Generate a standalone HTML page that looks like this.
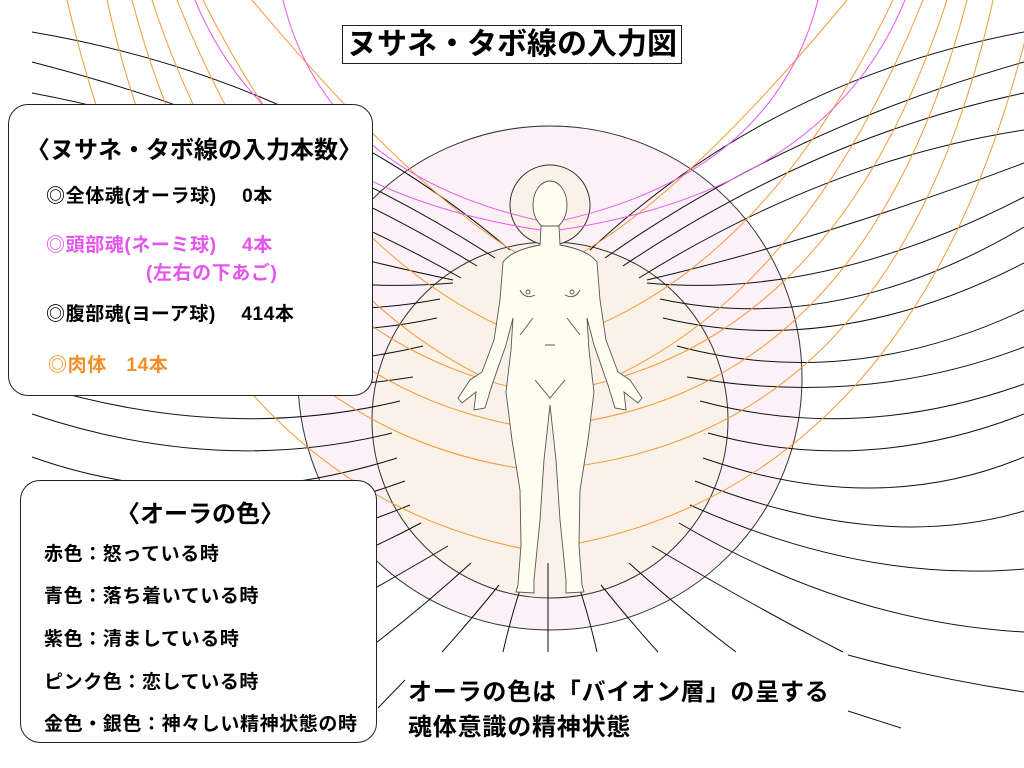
<!DOCTYPE html>
<html><head><meta charset="utf-8"><style>
html,body{margin:0;padding:0;background:#fff;}
body{width:1024px;height:768px;position:relative;overflow:hidden;font-family:"Liberation Sans","Noto Sans CJK JP",sans-serif;}
.t{position:absolute;font-weight:bold;white-space:nowrap;}
.box{position:absolute;border:1.5px solid #222;border-radius:20px;background:#fff;}
</style></head><body>
<svg id="s" width="1024" height="768" style="position:absolute;left:0;top:0">
<circle cx="550" cy="378" r="252" fill="#fcf1f7" stroke="#333" stroke-width="1"/>
<circle cx="550" cy="420" r="178" fill="#faf2e8" stroke="#333" stroke-width="1"/>
<circle cx="550" cy="205" r="40" fill="#faf2e8" stroke="#333" stroke-width="1"/>
<g id="lines" fill="none"></g>
<g fill="#fefdf0" stroke="#555" stroke-width="0.9">
<ellipse cx="550" cy="205" rx="17" ry="24"/>
<path d="M541,226 L540,245 Q512,250 503,262 L500,300 L494,340 L482,372 L470,380 L458,398 L462,403 L476,392 L474,410 L485,408 L492,385 L506,345 L513,318 L511,350 L506,392 L512,440 L520,490 L521,545 L518,585 L516,592 L534,593 L534,580 L540,520 L544,460 L550,405 L556,460 L560,520 L566,580 L566,593 L584,592 L582,585 L579,545 L580,490 L588,440 L594,392 L589,350 L587,318 L594,345 L608,385 L615,408 L626,410 L624,392 L638,403 L642,398 L630,380 L618,372 L606,340 L600,300 L597,262 Q588,250 560,245 L559,226 Z"/>
<path d="M520,290 Q525,300 535,295 M565,295 Q575,300 580,290 M533,318 L520,335 M567,318 L580,335 M545,345 L555,345 M535,380 L550,398 L565,380" fill="none"/>
<circle cx="528" cy="292" r="2"/><circle cx="572" cy="292" r="2"/>
</g>
</svg>

<div class="t" style="left:342px;top:25px;width:338px;height:37px;border:1.5px solid #222;font-size:30px;line-height:37px;text-align:center;">ヌサネ・タボ線の入力図</div>

<div class="box" style="left:8px;top:104px;width:363px;height:290px;"></div>
<div class="t" style="left:26px;top:130px;font-size:24px;">〈ヌサネ・タボ線の入力本数〉</div>
<div class="t" style="left:46px;top:181px;font-size:19px;letter-spacing:0.6px;">◎全体魂(オーラ球)　 0本</div>
<div class="t" style="left:46px;top:230px;font-size:19px;letter-spacing:0.6px;color:#e455ee;">◎頭部魂(ネーミ球)　 4本</div>
<div class="t" style="left:146px;top:258px;font-size:19px;letter-spacing:0.6px;color:#e455ee;">(左右の下あご)</div>
<div class="t" style="left:46px;top:299px;font-size:19px;letter-spacing:0.6px;">◎腹部魂(ヨーア球)　 414本</div>
<div class="t" style="left:48px;top:350px;font-size:19px;letter-spacing:0.6px;color:#f0902a;">◎肉体　14本</div>

<div class="box" style="left:20px;top:480px;width:355px;height:261px;"></div>
<div class="t" style="left:116px;top:494px;font-size:24px;">〈オーラの色〉</div>
<div class="t" style="left:44px;top:539px;font-size:19px;letter-spacing:0.6px;">赤色：怒っている時</div>
<div class="t" style="left:44px;top:581px;font-size:19px;letter-spacing:0.6px;">青色：落ち着いている時</div>
<div class="t" style="left:44px;top:624px;font-size:19px;letter-spacing:0.6px;">紫色：清ましている時</div>
<div class="t" style="left:44px;top:667px;font-size:19px;letter-spacing:0.6px;">ピンク色：恋している時</div>
<div class="t" style="left:44px;top:709px;font-size:19px;letter-spacing:0.6px;">金色・銀色：神々しい精神状態の時</div>

<div class="t" style="left:408px;top:672px;font-size:24px;letter-spacing:0.8px;">オーラの色は「バイオン層」の呈する</div>
<div class="t" style="left:408px;top:707px;font-size:24px;letter-spacing:0.8px;">魂体意識の精神状態</div>

<script>
var g=document.getElementById('lines'),out='';
function Q(S,M,E,c){var cx=2*M[0]-(S[0]+E[0])/2, cy=2*M[1]-(S[1]+E[1])/2;
 out+='<path d="M'+S[0]+','+S[1]+' Q'+cx+','+cy+' '+E[0]+','+E[1]+'" stroke="'+c+'" stroke-width="1"/>';}
var R=[
[[590,250],[790,110],[1024,32]],
[[605,258],[800,145],[1024,62]],
[[623,266],[820,158],[1024,93]],
[[639,278],[830,182],[1024,130]],
[[647,280],[830,230],[1024,163]],
[[647,283],[830,270],[1024,197]],
[[660,299],[840,300],[1024,227]],
[[663,318],[840,325],[1024,263]],
[[677,346],[850,360],[1024,310]],
[[687,377],[860,385],[1024,347]],
[[700,401],[860,418],[1024,384]],
[[708,433],[865,450],[1024,414]],
[[703,458],[870,488],[1024,457]],
[[695,481],[870,525],[1024,511]],
[[690,505],[860,560],[1024,569]],
[[679,523],[850,600],[1024,632]],
[[652,546],[755,605],[843,652]],
[[629,563],[683,610],[736,652]],
[[601,585],[630,620],[658,652]],
[[580,590],[589,620],[597,652]]
];
R.forEach(function(l,i){
 Q(l[0],l[1],l[2],'#111');
 var E=l[2][0]==1024?[32,l[2][1]]:[1100-l[2][0],l[2][1]];
 Q([1100-l[0][0],l[0][1]],[1100-l[1][0]+(E[0]==32?-20:0),l[1][1]],E,'#111');
});
out+='<path d="M548,563 L548,652" stroke="#111"/>';
Q([848,655],[935,676],[1024,692],'#111');
out+='<path d="M848,711 L901,728" stroke="#111"/>';
out+='<path d="M378,708 L405,680" stroke="#111"/>';
var O=[
[[847,0],[700,160],[578,255]],
[[893,0],[760,205],[598,325]],
[[923,0],[790,235],[618,375]],
[[947,0],[800,265],[578,388]],
[[967,0],[820,295],[575,423]],
[[993,0],[840,330],[570,467]],
[[1030,20],[860,380],[570,545]]
];
var OL=[
[[252,0],[400,160],[523,257]],
[[203,0],[340,205],[502,327]],
[[177,0],[310,235],[485,378]],
[[152,0],[300,265],[524,390]],
[[132,0],[280,295],[525,427]],
[[107,0],[260,330],[531,470]],
[[67,0],[240,380],[530,550]]
];
O.forEach(function(l){Q(l[0],l[1],l[2],'#f39a35');});
OL.forEach(function(l){Q(l[0],l[1],l[2],'#f39a35');});
Q([818,0],[730,143],[555,222],'#e85af0');
Q([905,0],[780,152],[560,230],'#e85af0');
Q([283,0],[370,143],[545,222],'#e85af0');
Q([195,0],[320,152],[540,230],'#e85af0');
g.innerHTML=out;
</script>
</body></html>
